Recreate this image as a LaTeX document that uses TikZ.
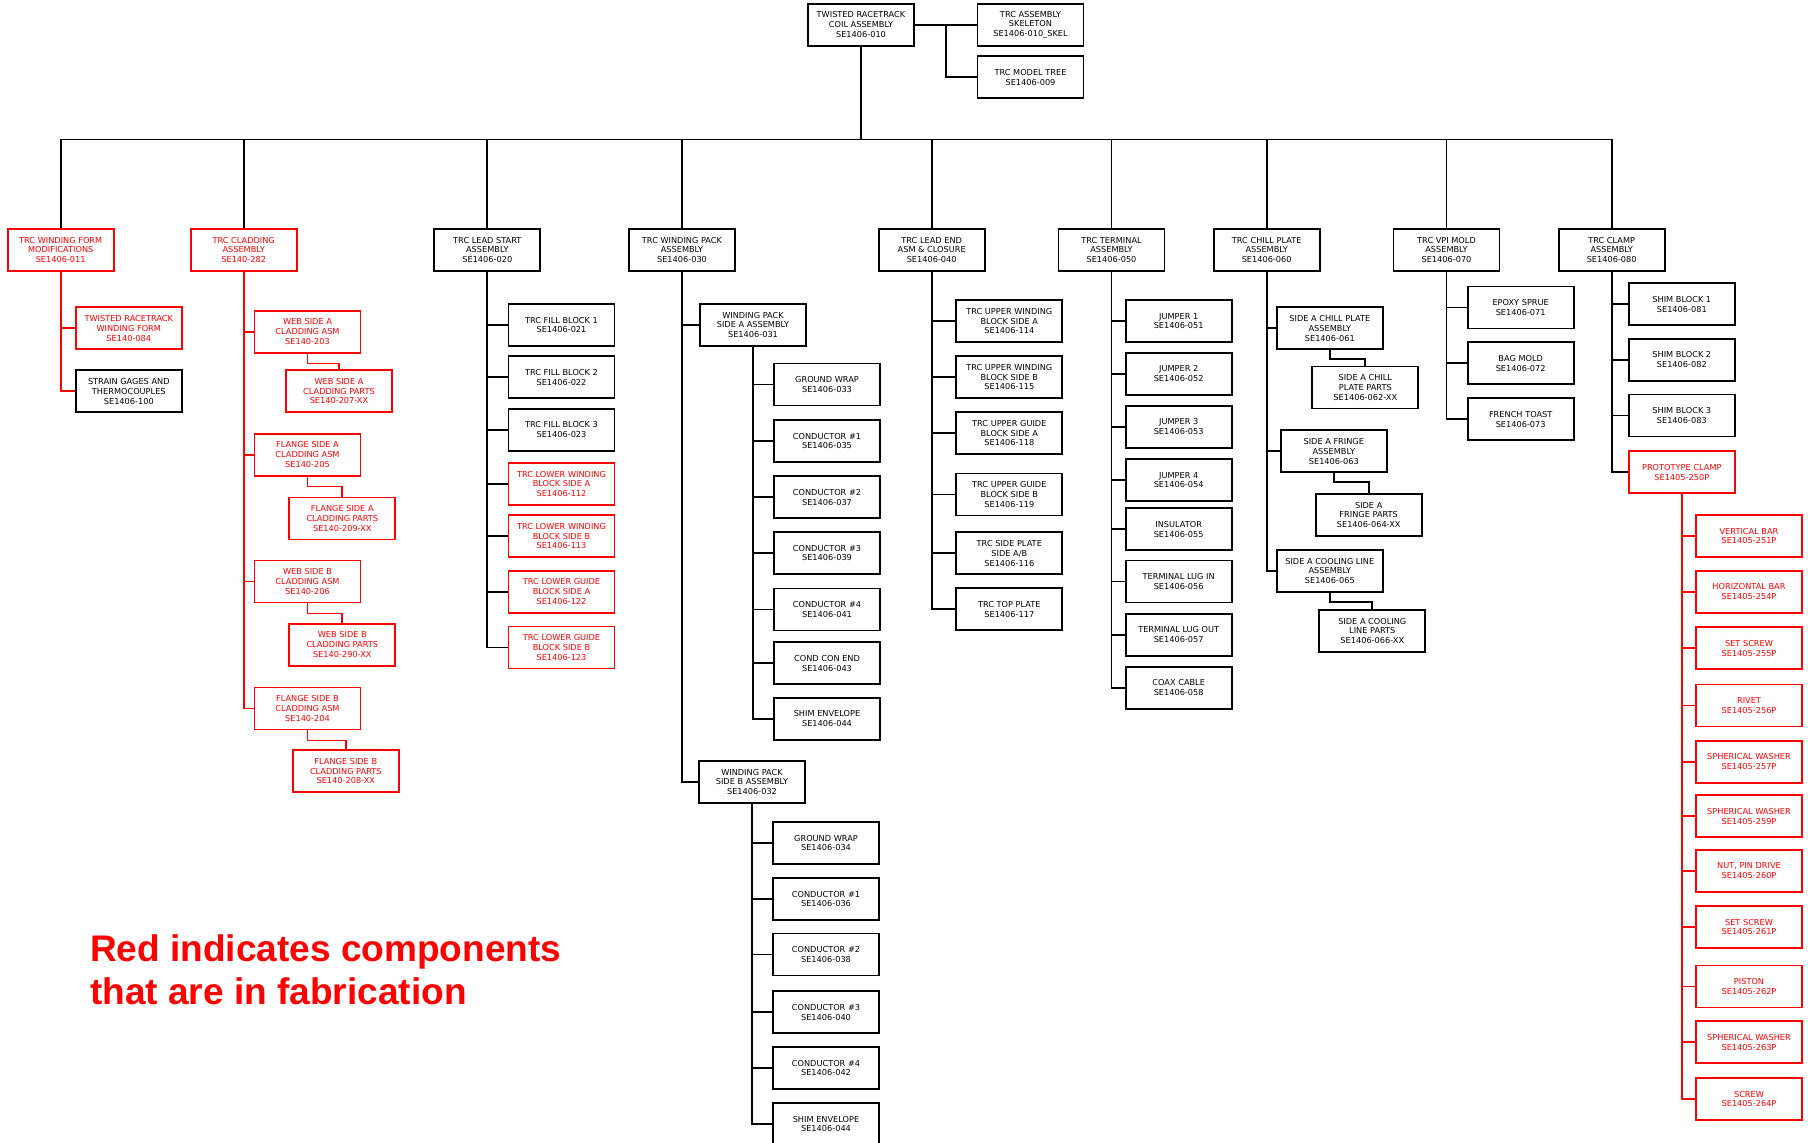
\documentclass[tikz,border=0pt]{standalone}
\usepackage{fontspec}
\setmainfont{DejaVu Sans}
\newfontfamily\notefont{Liberation Sans}

\begin{document}
\begin{tikzpicture}[x=0.03cm, y=-0.03cm,
  part/.style={draw, line width=1.5pt, minimum width=3.18cm, minimum height=1.26cm, inner sep=1pt, align=center, font=\fontsize{7}{8.3}\selectfont},
  link/.style={line width=1.5pt}]

 \useasboundingbox (0,0) rectangle (1808,1143);

 %level 0
 \node[part] (top) at (861,24.7) {TWISTED RACETRACK\\COIL ASSEMBLY\\SE1406-010};
 \node[part] (skel) at (1030.5,24.7) {TRC ASSEMBLY\\SKELETON\\SE1406-010\_SKEL};
 \node[part] (mtree) at (1030.5,77.3) {TRC MODEL TREE\\SE1406-009};

 \draw[link] (top.east) -- (skel.west);
 \draw[link] (top.east) -- ++(31,0) |- (mtree.west);

 %level 1
 \foreach \x/\name/\lbl/\c in {60.7/wform/{TRC WINDING FORM\\MODIFICATIONS\\SE1406-011}/red,
    243.7/clad/{TRC CLADDING\\ASSEMBLY\\SE140-282}/red,
    487.3/lstart/{TRC LEAD START\\ASSEMBLY\\SE1406-020}/black,
    682/wpack/{TRC WINDING PACK\\ASSEMBLY\\SE1406-030}/black,
    931.7/lend/{TRC LEAD END\\ASM \& CLOSURE\\SE1406-040}/black,
    1111.5/term/{TRC TERMINAL\\ASSEMBLY\\SE1406-050}/black,
    1266.7/chill/{TRC CHILL PLATE\\ASSEMBLY\\SE1406-060}/black,
    1446.5/vpi/{TRC VPI MOLD\\ASSEMBLY\\SE1406-070}/black,
    1611.7/clamp/{TRC CLAMP\\ASSEMBLY\\SE1406-080}/black} {
        \node[part, draw=\c, text=\c] (\name) at (\x,250) {\lbl};
        \draw[link] (top.south) -- ++(0,93) -| (\name.north);
 }

 %level 2
 %winding form
 \foreach \y/\name/\lbl/\c in {328.3/twform/{TWISTED RACETRACK\\WINDING FORM\\SE140-084}/red,
    391.3/gages/{STRAIN GAGES AND\\THERMOCOUPLES\\SE1406-100}/black} {
        \node[part, draw=\c, text=\c] (\name) at (128.8,\y) {\lbl};
        \draw[link, red] (wform.south) |- (\name.west);
 }

 %cladding
 \foreach \y/\name/\lbl/\px/\py/\plbl in {331.7/webA/{WEB SIDE A\\CLADDING ASM\\SE140-203}/339/391.2/{WEB SIDE A\\CLADDING PARTS\\SE140-207-XX},
    454.7/flgA/{FLANGE SIDE A\\CLADDING ASM\\SE140-205}/342.3/518.5/{FLANGE SIDE A\\CLADDING PARTS\\SE140-209-XX},
    581.5/webB/{WEB SIDE B\\CLADDING ASM\\SE140-206}/342.3/644.7/{WEB SIDE B\\CLADDING PARTS\\SE140-290-XX},
    708.5/flgB/{FLANGE SIDE B\\CLADDING ASM\\SE140-204}/345.8/771.2/{FLANGE SIDE B\\CLADDING PARTS\\SE140-208-XX}} {
        \node[part, draw=red, text=red] (\name) at (307.5,\y) {\lbl};
        \node[part, draw=red, text=red] (\name-parts) at (\px,\py) {\plbl};
        \draw[link, red] (clad.south) |- (\name.west);
        \draw[link, red] (\name.south) -- ++(0,10) -| (\name-parts.north);
 }

 %lead start
 \foreach \y/\name/\lbl/\c in {325/fill1/{TRC FILL BLOCK 1\\SE1406-021}/black,
    377.2/fill2/{TRC FILL BLOCK 2\\SE1406-022}/black,
    429.7/fill3/{TRC FILL BLOCK 3\\SE1406-023}/black,
    483.8/lwbA/{TRC LOWER WINDING\\BLOCK SIDE A\\SE1406-112}/red,
    536.2/lwbB/{TRC LOWER WINDING\\BLOCK SIDE B\\SE1406-113}/red,
    591.7/lgbA/{TRC LOWER GUIDE\\BLOCK SIDE A\\SE1406-122}/red,
    647.5/lgbB/{TRC LOWER GUIDE\\BLOCK SIDE B\\SE1406-123}/red} {
        \node[part, draw=\c, text=\c] (\name) at (561.5,\y) {\lbl};
        \draw[link] (lstart.south) |- (\name.west);
 }

 %winding pack
 \node[part] (sideA) at (753,325) {WINDING PACK\\SIDE A ASSEMBLY\\SE1406-031};
 \node[part] (sideB) at (752,782) {WINDING PACK\\SIDE B ASSEMBLY\\SE1406-032};
 \draw[link] (wpack.south) |- (sideA.west);
 \draw[link] (wpack.south) |- (sideB.west);

 \foreach \y/\name/\lbl in {384.4/gwA/{GROUND WRAP\\SE1406-033},
    440.9/condA1/{CONDUCTOR \#1\\SE1406-035},
    497.2/condA2/{CONDUCTOR \#2\\SE1406-037},
    553.1/condA3/{CONDUCTOR \#3\\SE1406-039},
    609.4/condA4/{CONDUCTOR \#4\\SE1406-041},
    663.3/ccend/{COND CON END\\SE1406-043},
    718.8/shimA/{SHIM ENVELOPE\\SE1406-044}} {
        \node[part] (\name) at (827,\y) {\lbl};
        \draw[link] (sideA.south) |- (\name.west);
 }

 \foreach \y/\name/\lbl in {843/gwB/{GROUND WRAP\\SE1406-034},
    898.9/condB1/{CONDUCTOR \#1\\SE1406-036},
    954.5/condB2/{CONDUCTOR \#2\\SE1406-038},
    1012.2/condB3/{CONDUCTOR \#3\\SE1406-040},
    1068/condB4/{CONDUCTOR \#4\\SE1406-042},
    1124/shimB/{SHIM ENVELOPE\\SE1406-044}} {
        \node[part] (\name) at (826,\y) {\lbl};
        \draw[link] (sideB.south) |- (\name.west);
 }

 %lead end
 \foreach \y/\name/\lbl in {321.2/uwbA/{TRC UPPER WINDING\\BLOCK SIDE A\\SE1406-114},
    377.2/uwbB/{TRC UPPER WINDING\\BLOCK SIDE B\\SE1406-115},
    433.2/ugbA/{TRC UPPER GUIDE\\BLOCK SIDE A\\SE1406-118},
    494.5/ugbB/{TRC UPPER GUIDE\\BLOCK SIDE B\\SE1406-119},
    553.3/splate/{TRC SIDE PLATE\\SIDE A/B\\SE1406-116},
    609.2/tplate/{TRC TOP PLATE\\SE1406-117}} {
        \node[part] (\name) at (1009.3,\y) {\lbl};
        \draw[link] (lend.south) |- (\name.west);
 }

 %terminal
 \foreach \y/\name/\lbl in {321.2/jmp1/{JUMPER 1\\SE1406-051},
    373.8/jmp2/{JUMPER 2\\SE1406-052},
    426.7/jmp3/{JUMPER 3\\SE1406-053},
    480/jmp4/{JUMPER 4\\SE1406-054},
    529.2/insul/{INSULATOR\\SE1406-055},
    581.5/lugin/{TERMINAL LUG IN\\SE1406-056},
    634.7/lugout/{TERMINAL LUG OUT\\SE1406-057},
    687.8/coax/{COAX CABLE\\SE1406-058}} {
        \node[part] (\name) at (1178.7,\y) {\lbl};
        \draw[link] (term.south) |- (\name.west);
 }

 %chill plate
 \foreach \x/\y/\name/\lbl/\px/\py/\plbl in {1329.8/328.3/cpA/{SIDE A CHILL PLATE\\ASSEMBLY\\SE1406-061}/1365.3/387.5/{SIDE A CHILL\\PLATE PARTS\\SE1406-062-XX},
    1333.8/451.3/frA/{SIDE A FRINGE\\ASSEMBLY\\SE1406-063}/1368.7/515/{SIDE A\\FRINGE PARTS\\SE1406-064-XX},
    1329.8/570.8/clA/{SIDE A COOLING LINE\\ASSEMBLY\\SE1406-065}/1372.3/630.8/{SIDE A COOLING\\LINE PARTS\\SE1406-066-XX}} {
        \node[part] (\name) at (\x,\y) {\lbl};
        \node[part] (\name-parts) at (\px,\py) {\plbl};
        \draw[link] (chill.south) |- (\name.west);
        \draw[link] (\name.south) -- ++(0,9) -| (\name-parts.north);
 }

 %vpi mold
 \foreach \y/\name/\lbl in {307.5/sprue/{EPOXY SPRUE\\SE1406-071},
    363.3/bag/{BAG MOLD\\SE1406-072},
    419.3/toast/{FRENCH TOAST\\SE1406-073}} {
        \node[part] (\name) at (1520.7,\y) {\lbl};
        \draw[link] (vpi.south) |- (\name.west);
 }

 %clamp
 \foreach \y/\name/\lbl/\c in {304.2/shim1/{SHIM BLOCK 1\\SE1406-081}/black,
    359.8/shim2/{SHIM BLOCK 2\\SE1406-082}/black,
    415.5/shim3/{SHIM BLOCK 3\\SE1406-083}/black,
    472.2/proto/{PROTOTYPE CLAMP\\SE1405-250P}/red} {
        \node[part, draw=\c, text=\c] (\name) at (1681.8,\y) {\lbl};
        \draw[link] (clamp.south) |- (\name.west);
 }

 %level 3
 \foreach \y/\name/\lbl in {535.9/vbar/{VERTICAL BAR\\SE1405-251P},
    591.8/hbar/{HORIZONTAL BAR\\SE1405-254P},
    648.2/sscrA/{SET SCREW\\SE1405-255P},
    705.4/rivet/{RIVET\\SE1405-256P},
    761.8/swA/{SPHERICAL WASHER\\SE1405-257P},
    816.2/swB/{SPHERICAL WASHER\\SE1405-259P},
    870.7/nut/{NUT, PIN DRIVE\\SE1405-260P},
    926.9/sscrB/{SET SCREW\\SE1405-261P},
    986.5/piston/{PISTON\\SE1405-262P},
    1042.3/swC/{SPHERICAL WASHER\\SE1405-263P},
    1099.1/screw/{SCREW\\SE1405-264P}} {
        \node[part, draw=red, text=red] (\name) at (1749,\y) {\lbl};
        \draw[link, red] (proto.south) |- (\name.west);
 }

 %note
 \node[anchor=west, align=left, inner sep=0pt, text=red, font=\notefont\bfseries\fontsize{31.6}{36.7}\selectfont] (note) at (90,970) {Red indicates components\\that are in fabrication};

\end{tikzpicture}
\end{document}
